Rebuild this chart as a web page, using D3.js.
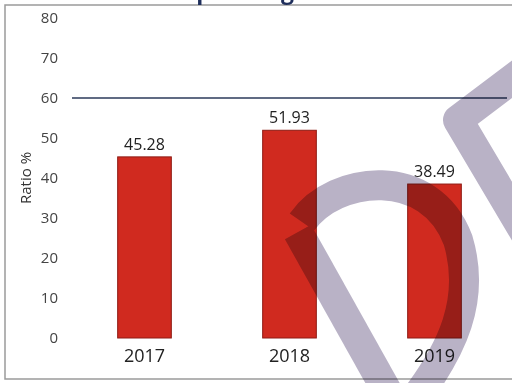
<!DOCTYPE html>
<meta charset="utf-8">
<head>
  <title>Operating Ratio</title>
  <script src="https://d3js.org/d3.v7.min.js"></script>
</head>
<style>
  body { margin: 0; background: #fff; }
  text { font-family: "Open Sans", sans-serif; }
</style>
<div id="chart"></div>
<script>
  var years = ["2017", "2018", "2019"]
  var ratios = [45.28, 51.93, 38.49]
  var target = 60
  var yTicks = [0, 10, 20, 30, 40, 50, 60, 70, 80]

  var width = 512, height = 383
  var svg = d3.select("#chart").append("svg")
    .attr("width", width)
    .attr("height", height)

  // frame of the scanned panel
  svg.append("rect")
    .attr("x", 5).attr("y", 5)
    .attr("width", 530).attr("height", 374)
    .attr("fill", "none")
    .attr("stroke", "#9a9a9a")
    .attr("stroke-width", 1.5)

  // title, mostly cut off at the top (as in the scan)
  svg.append("text")
    .attr("x", 178).attr("y", -1)
    .attr("fill", "#1f2f5c")
    .style("font-size", "23px")
    .style("font-weight", "bold")
    .text("Operating Ratio")

  var x = d3.scaleBand()
    .domain(years)
    .range([72, 507])
    .paddingInner(0.63)
    .paddingOuter(0.315)

  var y = d3.scaleLinear()
    .domain([0, 80])
    .range([338, 18])

  // y tick labels
  svg.append("g")
    .selectAll("text")
    .data(yTicks)
    .join("text")
      .attr("x", 58)
      .attr("y", d => y(d))
      .attr("dy", "0.35em")
      .attr("text-anchor", "end")
      .attr("fill", "#444")
      .style("font-size", "15px")
      .text(d => d)

  svg.append("text")
    .attr("transform", "translate(31," + y(40) + ") rotate(-90)")
    .attr("text-anchor", "middle")
    .attr("fill", "#333")
    .style("font-size", "15px")
    .text("Ratio %")

  // bars
  svg.append("g")
    .selectAll("rect")
    .data(years)
    .join("rect")
      .attr("x", d => x(d))
      .attr("y", (d, i) => y(ratios[i]))
      .attr("width", x.bandwidth())
      .attr("height", (d, i) => y(0) - y(ratios[i]))
      .attr("fill", "#d02a1f")
      .attr("stroke", "#8e1b14")
      .attr("stroke-width", 1)

  // value labels
  svg.append("g")
    .selectAll("text")
    .data(years)
    .join("text")
      .attr("x", d => x(d) + x.bandwidth() / 2)
      .attr("y", (d, i) => y(ratios[i]) - 7)
      .attr("text-anchor", "middle")
      .attr("fill", "#222")
      .style("font-size", "16px")
      .text((d, i) => ratios[i].toFixed(2))

  // x labels
  svg.append("g")
    .selectAll("text")
    .data(years)
    .join("text")
      .attr("x", d => x(d) + x.bandwidth() / 2)
      .attr("y", 362)
      .attr("text-anchor", "middle")
      .attr("fill", "#222")
      .style("font-size", "18px")
      .text(d => d)

  // target line
  svg.append("line")
    .attr("x1", 72).attr("x2", 507)
    .attr("y1", y(target)).attr("y2", y(target))
    .attr("stroke", "#2b3a5a")
    .attr("stroke-width", 1.6)

  // scanner watermark
  var wm = svg.append("g")
    .style("mix-blend-mode", "multiply")
    .attr("fill", "none")
    .attr("stroke", "#b9b2c6")
    .attr("stroke-width", 30)
  wm.append("path").attr("d", "M298,232 L392,400")
  wm.append("path").attr("d", "M302,222 C335,175 430,165 458,240 C476,300 452,350 414,400")
  wm.append("path").attr("d", "M535,62 L458,120 L535,250").attr("stroke-linejoin", "round")
</script>
